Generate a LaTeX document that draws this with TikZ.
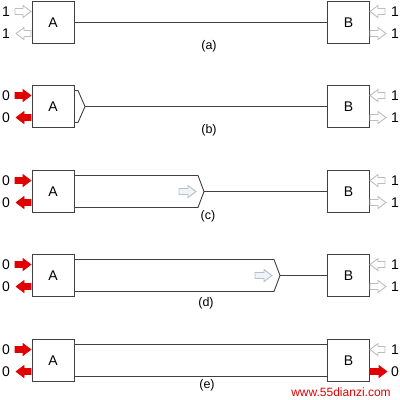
\documentclass[tikz,border=0pt]{standalone}
\usepackage{fontspec}
\setmainfont{Liberation Sans}
\definecolor{linegray}{HTML}{404040}
\definecolor{hollowgray}{HTML}{BDBDBD}
\definecolor{pipearrow}{HTML}{B4C0CC}
\definecolor{pipefill}{HTML}{F0F3F7}
\definecolor{sigred}{HTML}{E00000}
\newcommand\blkarrow[4]{%
  \pgfmathsetmacro\dd{(#3-#2)/abs(#3-#2)}%
  \pgfmathsetmacro\hx{#3-8*\dd}%
  \draw[#1] (#2,#4-3) -- (\hx,#4-3) -- (\hx,#4-6) -- (#3,#4) -- (\hx,#4+6) -- (\hx,#4+3) -- (#2,#4+3) -- cycle;%
}
\tikzset{
  box/.style={draw=linegray, line width=0.9pt, fill=white, minimum width=42pt, minimum height=42pt, inner sep=0pt, font=\fontsize{14}{14}\selectfont},
  wire/.style={draw=linegray, line width=0.9pt},
  hollow/.style={draw=hollowgray, fill=white, line width=0.9pt, line join=miter},
  pipehollow/.style={draw=pipearrow, fill=pipefill, line width=0.9pt},
  redarr/.style={draw=sigred, fill=sigred, line width=0.6pt},
  bit/.style={font=\fontsize{14}{14}\selectfont, inner sep=0pt},
  caplbl/.style={font=\fontsize{12.5}{12.5}\selectfont, inner sep=0pt}
}
\begin{document}
\begin{tikzpicture}[x=1pt,y=-1pt]
\useasboundingbox (0,0) rectangle (400,400);
% (a)
\begin{scope}[shift={(0,1)}]
  \node[box] (Aa) at (53,21.5) {A};
  \node[box] (Ba) at (348.5,21.5) {B};
  \draw[wire] (Aa.east) -- (Ba.west);
  \blkarrow{hollow}{15}{31}{10.5}
  \blkarrow{hollow}{31}{16}{32.5}
  \blkarrow{hollow}{385}{370}{10.5}
  \blkarrow{hollow}{370}{386}{32.5}
  \node[bit] (la1) at (6,10.5) {1};
  \node[bit] (la2) at (6,32.5) {1};
  \node[bit] (ra1) at (395,10.5) {1};
  \node[bit] (ra2) at (395,32.5) {1};
  \node[caplbl] (ca) at (209,45) {(a)};
\end{scope}
% (b)
\begin{scope}[shift={(0,85)}]
  \node[box] (Ab) at (53,21.5) {A};
  \node[box] (Bb) at (348.5,21.5) {B};
  \draw[wire] (74,5.5) -- (78,5.5) -- (85,21.5) -- (78,37.5) -- (74,37.5);
  \coordinate (tb) at (85,21.5);
  \draw[wire] (tb) -- (Bb.west);
  \blkarrow{redarr}{15}{31}{10.5}
  \blkarrow{redarr}{31}{16}{32.5}
  \blkarrow{hollow}{385}{370}{10.5}
  \blkarrow{hollow}{370}{386}{32.5}
  \node[bit] (lb1) at (6,10.5) {0};
  \node[bit] (lb2) at (6,32.5) {0};
  \node[bit] (rb1) at (395,10.5) {1};
  \node[bit] (rb2) at (395,32.5) {1};
  \node[caplbl] (cb) at (209,45) {(b)};
\end{scope}
% (c)
\begin{scope}[shift={(0,170)}]
  \node[box] (Ac) at (53,21.5) {A};
  \node[box] (Bc) at (348.5,21.5) {B};
  \draw[wire] (74,5.5) -- (198,5.5) -- (204,21.5) -- (198,37.5) -- (74,37.5);
  \coordinate (tc) at (204,21.5);
  \draw[wire] (tc) -- (Bc.west);
  \blkarrow{pipehollow}{179}{196}{21.5}
  \blkarrow{redarr}{15}{31}{10.5}
  \blkarrow{redarr}{31}{16}{32.5}
  \blkarrow{hollow}{385}{370}{10.5}
  \blkarrow{hollow}{370}{386}{32.5}
  \node[bit] (lc1) at (6,10.5) {0};
  \node[bit] (lc2) at (6,32.5) {0};
  \node[bit] (rc1) at (395,10.5) {1};
  \node[bit] (rc2) at (395,32.5) {1};
  \node[caplbl] (cc) at (208,46) {(c)};
\end{scope}
% (d)
\begin{scope}[shift={(0,254)}]
  \node[box] (Ad) at (53,21.5) {A};
  \node[box] (Bd) at (348.5,21.5) {B};
  \draw[wire] (74,5.5) -- (274,5.5) -- (280,21.5) -- (274,37.5) -- (74,37.5);
  \coordinate (td) at (280,21.5);
  \draw[wire] (td) -- (Bd.west);
  \blkarrow{pipehollow}{255}{272}{21.5}
  \blkarrow{redarr}{15}{31}{10.5}
  \blkarrow{redarr}{31}{16}{32.5}
  \blkarrow{hollow}{385}{370}{10.5}
  \blkarrow{hollow}{370}{386}{32.5}
  \node[bit] (ld1) at (6,10.5) {0};
  \node[bit] (ld2) at (6,32.5) {0};
  \node[bit] (rd1) at (395,10.5) {1};
  \node[bit] (rd2) at (395,32.5) {1};
  \node[caplbl] (cd) at (206,49) {(d)};
\end{scope}
% (e)
\begin{scope}[shift={(0,339)}]
  \node[box] (Ae) at (53,21.5) {A};
  \node[box] (Be) at (348.5,21.5) {B};
  \draw[wire] (Ae.east |- 0,5.5) -- (Be.west |- 0,5.5);
  \draw[wire] (Ae.east |- 0,37.5) -- (Be.west |- 0,37.5);
  \blkarrow{redarr}{15}{31}{10.5}
  \blkarrow{redarr}{31}{16}{32.5}
  \blkarrow{hollow}{385}{370}{10.5}
  \blkarrow{redarr}{370}{387}{32.5}
  \node[bit] (le1) at (6,10.5) {0};
  \node[bit] (le2) at (6,32.5) {0};
  \node[bit] (re1) at (395,10.5) {1};
  \node[bit] (re2) at (395,32.5) {0};
  \node[caplbl] (ce) at (207,46) {(e)};
\end{scope}
\node[font=\fontsize{12}{12}\selectfont, text=sigred, inner sep=0pt] (wm) at (341,392) {www.55dianzi.com};
\end{tikzpicture}
\end{document}
